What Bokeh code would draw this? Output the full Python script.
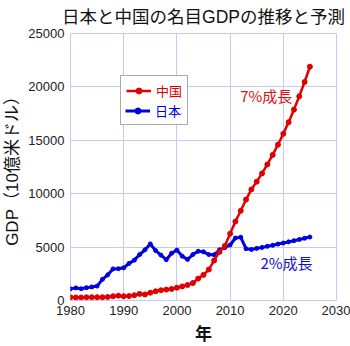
from bokeh.plotting import figure
from bokeh.models import Legend, LegendItem, Label, FixedTicker, Range1d
from bokeh.embed import file_html
from bokeh.resources import INLINE

# ---- data ----
years = list(range(1980, 2026))
china_gdp = [300, 290, 285, 300, 310, 310, 300, 330, 400, 450,
             400, 420, 490, 620, 570, 730, 860, 960, 1020, 1080,
             1200, 1320, 1450, 1640, 2050, 2400, 2900, 3750, 4550, 5100,
             6250, 7400, 8400, 9450, 10400, 11130, 11900, 12740, 13630, 14590,
             15610, 16700, 17870, 19120, 20460, 21890]
japan_gdp = [1090, 1180, 1100, 1200, 1270, 1350, 1980, 2400, 2960, 2980,
             3060, 3470, 3780, 4300, 4750, 5300, 4680, 4250, 3820, 4420,
             4720, 4150, 3850, 4300, 4610, 4560, 4300, 4280, 4750, 4950,
             5200, 5850, 5920, 4850, 4780, 4880, 4970, 5070, 5170, 5280,
             5380, 5490, 5600, 5710, 5830, 5940]
x_ticks = [1980, 1990, 2000, 2010, 2020, 2030]
y_ticks = [0, 5000, 10000, 15000, 20000, 25000]
title_text = "日本と中国の名目GDPの推移と予測"
x_label = "年"
y_label = "GDP（10億米ドル）"
series_names = ["中国", "日本"]
china_note = "7%成長"
china_note_pos = (2016.8, 19200)
japan_note = "2%成長"
japan_note_pos = (2020.6, 3580)

# ---- style ----
RED = "#e00000"
BLUE = "#0000e0"
GRID = "#c8c8f4"
JP_FONT = "Noto Sans CJK JP"
# Latin font first (compact metrics for layout), CJK glyphs fall back to Noto
MIX_FONT = "'Liberation Sans', 'Noto Sans CJK JP'"
NUM_FONT = "Liberation Sans"

p = figure(width=350, height=346, output_backend="svg", toolbar_location=None,
           x_range=Range1d(1980, 2030), y_range=Range1d(0, 25000),
           min_border_left=68, min_border_right=14, min_border_top=33,
           min_border_bottom=46)
p.background_fill_color = "white"
p.border_fill_color = "white"
p.outline_line_color = GRID
p.outline_line_width = 1

p.title.text = title_text
p.title.align = "center"
p.title.vertical_align = "top"
p.title.text_font = MIX_FONT
p.title.text_font_size = "17.5px"
p.title.text_font_style = "normal"
p.title.text_color = "#111111"
p.title.standoff = 10

for ax in (p.xaxis[0], p.yaxis[0]):
    ax.axis_line_color = None
    ax.major_tick_line_color = None
    ax.minor_tick_line_color = None
    ax.major_tick_out = 0
    ax.major_tick_in = 0
    ax.minor_tick_out = 0
    ax.minor_tick_in = 0
    ax.major_label_text_font = NUM_FONT
    ax.major_label_text_font_size = "13px"
    ax.major_label_text_color = "#222222"
    ax.axis_label_text_font = MIX_FONT
    ax.axis_label_text_font_style = "normal"
    ax.axis_label_text_color = "#111111"

p.xaxis.ticker = FixedTicker(ticks=x_ticks)
p.yaxis.ticker = FixedTicker(ticks=y_ticks)
p.xaxis.major_label_standoff = 5
p.yaxis.major_label_standoff = 6
p.xaxis.axis_label = x_label
p.xaxis.axis_label_text_font_size = "17px"
p.xaxis.axis_label_text_font_style = "bold"
p.xaxis.axis_label_standoff = 7
p.yaxis.axis_label = y_label
p.yaxis.axis_label_text_font_size = "17px"
p.yaxis.axis_label_standoff = 3

p.xgrid.grid_line_color = GRID
p.ygrid.grid_line_color = GRID
p.xgrid.ticker = FixedTicker(ticks=x_ticks)
p.ygrid.ticker = FixedTicker(ticks=y_ticks)

jl = p.line(years, japan_gdp, line_color=BLUE, line_width=3)
jp = p.scatter(years, japan_gdp, size=4, fill_color=BLUE, line_color=BLUE)
cl = p.line(years, china_gdp, line_color=RED, line_width=2.5)
cp = p.scatter(years, china_gdp, size=5, fill_color=RED, line_color=RED)

leg_x, leg_y = 50, 175
pad = 5
leg_common = dict(margin=0, glyph_width=25, glyph_height=15, label_height=15,
                  label_standoff=5, label_text_font=MIX_FONT,
                  label_text_font_size="13px",
                  background_fill_color="white", background_fill_alpha=1)
leg1 = Legend(items=[LegendItem(label=series_names[0], renderers=[cl, cp]),
                     LegendItem(label=series_names[1], renderers=[jl, jp])],
              location=(leg_x, leg_y), padding=pad, spacing=0,
              label_text_color=RED, border_line_color="#555555",
              border_line_width=1, **leg_common)
leg2 = Legend(items=[LegendItem(label=series_names[1], renderers=[jl, jp])],
              location=(leg_x + pad, leg_y + pad), padding=0, spacing=0,
              label_text_color=BLUE, border_line_color=None, **leg_common)
p.add_layout(leg1)
p.add_layout(leg2)

p.add_layout(Label(x=china_note_pos[0], y=china_note_pos[1], text=china_note,
                   text_align="center", text_baseline="middle",
                   text_font=JP_FONT, text_font_size="15px", text_color="#dd1111"))
p.add_layout(Label(x=japan_note_pos[0], y=japan_note_pos[1], text=japan_note,
                   text_align="center", text_baseline="middle",
                   text_font=JP_FONT, text_font_size="15px", text_color="#1111cc"))

open("out.html", "w").write(file_html(p, INLINE))
